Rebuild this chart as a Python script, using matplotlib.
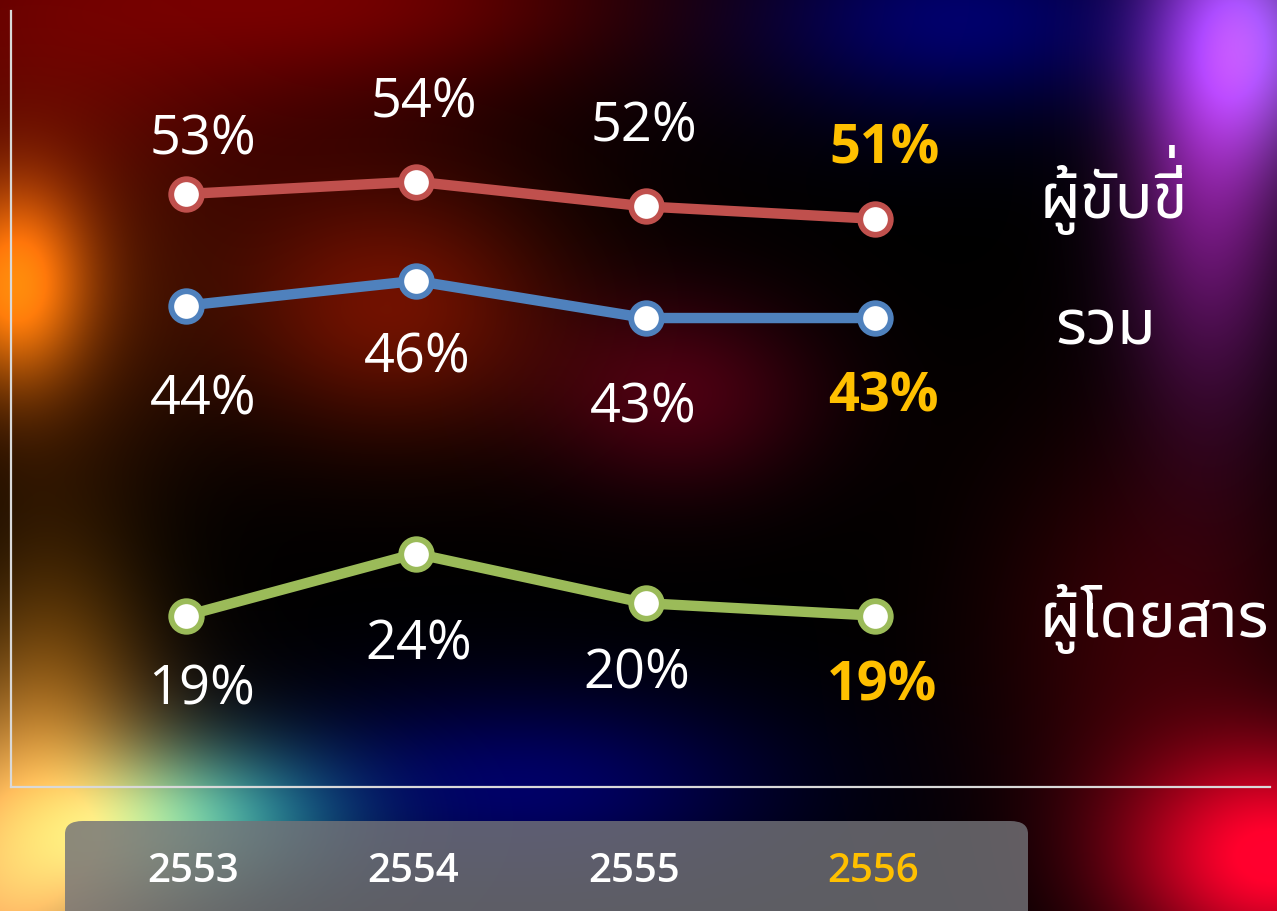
import numpy as np
import matplotlib
matplotlib.use("Agg")
import matplotlib.pyplot as plt
from matplotlib import font_manager as fm
from matplotlib.ft2font import FT2Font
from matplotlib.patches import FancyBboxPatch
import matplotlib.transforms as mtransforms

# ---------------- data ----------------
years = ["2553", "2554", "2555", "2556"]
riders = [53, 54, 52, 51]        # ผู้ขับขี่
total = [44, 46, 43, 43]         # รวม
passengers = [19, 24, 20, 19]    # ผู้โดยสาร
series_names = ["ผู้ขับขี่", "รวม", "ผู้โดยสาร"]

# ---------------- fonts ----------------
def find_thai_font():
    preferred = ["Noto Sans Thai", "Noto Sans Thai UI", "Noto Sans Thai Looped",
                 "Loma", "Garuda", "Sarabun", "Tlwg Typist", "Norasi", "Kinnari"]
    names = {f.name: f.fname for f in fm.fontManager.ttflist}
    for p in preferred:
        if p in names:
            return p
    for f in fm.fontManager.ttflist:
        try:
            ft = FT2Font(f.fname)
            if ft.get_char_index(ord("ผ")) and ft.get_char_index(ord("ู")):
                return f.name
        except Exception:
            pass
    return None

thai = find_thai_font()
base = "Open Sans"
thai_family = [thai, base, "DejaVu Sans"] if thai else [base, "DejaVu Sans"]
plt.rcParams["font.family"] = [base, "DejaVu Sans"]

W, H = 1277, 912
fig = plt.figure(figsize=(W / 100, H / 100), dpi=100)
fig.patch.set_facecolor("black")

# ---------------- background ----------------
yy, xx = np.mgrid[0:H, 0:W].astype(float)
img = np.zeros((H, W, 3))

def blob(cx, cy, sx, sy, color, k=1.0):
    g = np.exp(-(((xx - cx) / sx) ** 2 + ((yy - cy) / sy) ** 2) / 2.0) * k
    for i in range(3):
        img[..., i] += g * color[i]

blob(80, 0, 280, 140, (0.40, 0.0, 0.0))
blob(420, 0, 170, 60, (0.22, 0.0, 0.0))
blob(15, 285, 50, 70, (0.80, 0.45, 0.05))
blob(40, 300, 110, 130, (0.28, 0.10, 0.0))
blob(390, 310, 120, 90, (0.42, 0.07, 0.0))
blob(680, 395, 100, 70, (0.28, 0.0, 0.07))
blob(960, 20, 150, 70, (0.0, 0.0, 0.42))
blob(1210, 140, 60, 170, (0.50, 0.10, 0.55))
blob(1255, 40, 60, 80, (0.40, 0.30, 0.65))
blob(0, 880, 110, 120, (0.95, 0.70, 0.40))
blob(50, 700, 70, 120, (0.35, 0.20, 0.0))
blob(240, 820, 90, 55, (0.05, 0.38, 0.35))
blob(150, 830, 80, 60, (0.30, 0.40, 0.22))
blob(520, 790, 180, 70, (0.0, 0.0, 0.40))
blob(1275, 860, 110, 80, (1.0, 0.0, 0.18))
blob(1160, 640, 120, 150, (0.22, 0.0, 0.02))
img = np.clip(img, 0, 1)

bg = fig.add_axes([0, 0, 1, 1])
bg.imshow(img, extent=(0, 1, 0, 1), aspect="auto", zorder=0)
bg.set_xlim(0, 1)
bg.set_ylim(0, 1)
bg.set_axis_off()

# category box (drawn on the background layer)
box = FancyBboxPatch((65 / W, -0.05), (1028 - 65) / W, (912 - 822) / H + 0.05,
                     boxstyle="round,pad=0,rounding_size=0.014",
                     transform=bg.transAxes, facecolor=(0.45, 0.45, 0.47),
                     alpha=0.82, edgecolor="none", zorder=2)
bg.add_patch(box)

# ---------------- main axes ----------------
ax = fig.add_axes([11 / W, 1 - 788 / H, (1270 - 11) / W, (788 - 12) / H])
ax.patch.set_alpha(0)
x = np.arange(len(years))
ax.set_xlim(-0.761, 4.717)
ax.set_ylim(5.18, 67.76)
for s in ["top", "right"]:
    ax.spines[s].set_visible(False)
for s in ["left", "bottom"]:
    ax.spines[s].set_color("#d9d9d9")
    ax.spines[s].set_linewidth(1.6)
ax.set_xticks([])
ax.set_yticks([])

colors = ["#C0504D", "#4F81BD", "#9BBB59"]
data = [riders, total, passengers]
for vals, c in zip(data, colors):
    ax.plot(x, vals, color=c, lw=7.5, marker="o", ms=22, mfc="white",
            mec=c, mew=4.2, solid_capstyle="round", zorder=3)

# label offsets (pixels: dx, dy with dy positive upward)
offsets = [
    [(17, 55), (8, 80), (-2, 80), (9, 70)],
    [(17, -93), (2, -76), (-2, -89), (8, -78)],
    [(16, -73), (3, -90), (-9, -70), (7, -70)],
]
yellow = "#FFC000"
for vals, offs in zip(data, offsets):
    for i, (v, (dx, dy)) in enumerate(zip(vals, offs)):
        last = i == len(vals) - 1
        ax.annotate(f"{v}%", (x[i], v), xytext=(dx * 0.72, dy * 0.72),
                    textcoords="offset points", ha="center", va="center",
                    fontsize=39, color=yellow if last else "white",
                    fontweight="bold" if last else "normal", zorder=4)

# series names on the right (baseline positions)
name_pos = [(1040 / W, 1 - 218 / H), (1055 / W, 1 - 345 / H), (1040 / W, 1 - 637 / H)]
name_texts = []
for name, (fx, fy) in zip(series_names, name_pos):
    t = fig.text(fx, fy, name, ha="left", va="baseline", fontsize=45.5,
                 color="white", family=thai_family)
    name_texts.append(t)

# raise the tone mark above the upper vowel (no complex shaping in matplotlib)
renderer = fig.canvas.get_renderer()
ext = name_texts[0].get_window_extent(renderer)
fig.text((ext.x1 - 8) / W, 1 - 149 / H, " \u0e48", ha="right", va="top",
         fontsize=45.5, color="white", family=thai_family)

trans = mtransforms.blended_transform_factory(ax.transData, fig.transFigure)
year_dx = [0.03, -0.01, -0.05, -0.01]
for i, yr in enumerate(years):
    last = i == len(years) - 1
    ax.text(x[i] + year_dx[i], 1 - 872 / H, yr, transform=trans,
            ha="center", va="center", fontsize=29, fontweight="semibold",
            color=yellow if last else "white", clip_on=False, zorder=5)

fig.savefig("out.png", dpi=100, facecolor="black")
